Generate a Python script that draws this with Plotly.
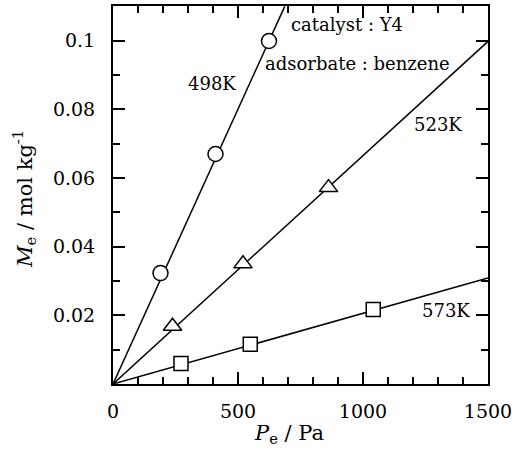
import plotly.graph_objects as go

# data
p_498 = [190, 410, 624]
m_498 = [0.0323, 0.0670, 0.0999]
p_523 = [238, 520, 862]
m_523 = [0.0168, 0.0350, 0.0572]
p_573 = [272, 549, 1041]
m_573 = [0.0060, 0.0116, 0.0217]

# fitted straight lines (endpoints)
fit_498_x = [0, 687]
fit_498_y = [0, 0.110]
fit_523_x = [0, 1500]
fit_523_y = [0, 0.0998]
fit_573_x = [0, 1500]
fit_573_y = [0, 0.0309]

y_tickvals = [0.02, 0.04, 0.06, 0.08, 0.1]
y_ticktext = ["0.02", "0.04", "0.06", "0.08", "0.1"]
x_tickvals = [0, 500, 1000, 1500]
x_ticktext = ["0", "500", "1000", "1500"]

FONT = "DejaVu Serif"
fig = go.Figure()

for fx, fy in [(fit_498_x, fit_498_y), (fit_523_x, fit_523_y), (fit_573_x, fit_573_y)]:
    fig.add_trace(go.Scatter(x=fx, y=fy, mode="lines",
                             line=dict(color="black", width=1.5),
                             showlegend=False, hoverinfo="skip"))

for xs, ys, sym, sz in [(p_498, m_498, "circle", 15),
                        (p_523, m_523, "triangle-up", 16),
                        (p_573, m_573, "square", 14)]:
    fig.add_trace(go.Scatter(x=xs, y=ys, mode="markers",
                             marker=dict(symbol=sym, size=sz, color="white",
                                         line=dict(color="black", width=1.5)),
                             showlegend=False))

axis_common = dict(showgrid=False, zeroline=False, showline=True,
                   linecolor="black", linewidth=2, ticks="inside",
                   ticklen=12, tickwidth=1.5, tickcolor="black",
                   mirror="allticks", ticklabeloverflow="allow",
                   tickfont=dict(family=FONT, size=19, color="black"))

fig.update_xaxes(range=[0, 1500], tickvals=x_tickvals, ticktext=x_ticktext,
                 minor=dict(dtick=100, ticks="inside", ticklen=7,
                            tickwidth=1.5, tickcolor="black"),
                 ticklabelstandoff=9, **axis_common)
fig.update_yaxes(range=[0, 0.1101], tickvals=y_tickvals, ticktext=y_ticktext,
                 minor=dict(dtick=0.01, tick0=0, ticks="inside", ticklen=7,
                            tickwidth=1.5, tickcolor="black"),
                 ticklabelstandoff=12, **axis_common)

ann_font = dict(family=FONT, size=18, color="black")
annotations = [
    dict(x=396, y=0.0875, text="498K"),
    dict(x=1298, y=0.0757, text="523K"),
    dict(x=1332, y=0.0214, text="573K"),
    dict(x=934, y=0.1046, text="catalyst : Y4"),
    dict(x=979, y=0.0933, text="adsorbate : benzene"),
]
for a in annotations:
    fig.add_annotation(x=a["x"], y=a["y"], text=a["text"], showarrow=False,
                       xref="x", yref="y", font=ann_font,
                       xanchor="center", yanchor="middle")

fig.add_annotation(x=-0.2375, y=0.4895, xref="paper", yref="paper",
                   text="<i>M</i><sub>e</sub> / mol kg<sup>-1</sup>",
                   textangle=-90, showarrow=False,
                   font=dict(family=FONT, size=21, color="black"),
                   xanchor="center", yanchor="middle")
fig.add_annotation(x=0.4697, y=-0.1316, xref="paper", yref="paper",
                   text="<i>P</i><sub>e</sub> / Pa", showarrow=False,
                   font=dict(family=FONT, size=21, color="black"),
                   xanchor="center", yanchor="middle")

fig.update_layout(width=516, height=451,
                  margin=dict(l=113, r=24, t=4, b=67),
                  font=dict(family=FONT),
                  plot_bgcolor="white", paper_bgcolor="white")

fig.write_html("out.html")
